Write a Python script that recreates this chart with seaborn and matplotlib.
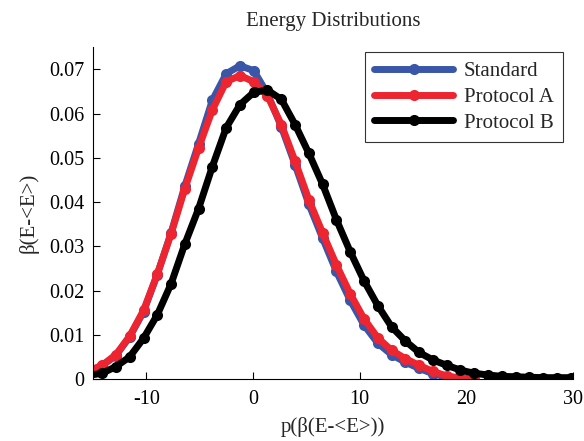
import numpy as np
import pandas as pd
import matplotlib
matplotlib.use("Agg")
import matplotlib.pyplot as plt
import seaborn as sns

# Bin centres of the energy histograms
x_std = [-15.42, -14.13, -12.84, -11.55, -10.25, -8.96, -7.67, -6.38, -5.09, -3.80,
         -2.50, -1.21, 0.08, 1.37, 2.67, 3.96, 5.25, 6.54, 7.83, 9.12,
         10.42, 11.71, 13.00, 14.29, 15.58, 16.88, 18.17, 19.46, 20.75]
x_b = x_std + [22.04, 23.34, 24.63, 25.92, 27.21, 28.50, 29.80]

standard = [0.0017, 0.0030, 0.0053, 0.0095, 0.0152, 0.0236, 0.0330, 0.0436, 0.0532, 0.0630,
            0.0690, 0.0708, 0.0697, 0.0645, 0.0570, 0.0484, 0.0395, 0.0318, 0.0243, 0.0178,
            0.0122, 0.0081, 0.0055, 0.0038, 0.0024, 0.0012, 0.0004, 0.0001, 0.0000]
protocol_a = [0.0018, 0.0031, 0.0055, 0.0097, 0.0155, 0.0237, 0.0328, 0.0430, 0.0522, 0.0608,
              0.0672, 0.0686, 0.0672, 0.0640, 0.0575, 0.0492, 0.0405, 0.0330, 0.0258, 0.0193,
              0.0136, 0.0093, 0.0065, 0.0046, 0.0031, 0.0017, 0.0007, 0.0002, 0.0000]
protocol_b = [0.0008, 0.0013, 0.0028, 0.0050, 0.0092, 0.0145, 0.0215, 0.0305, 0.0385, 0.0480,
              0.0568, 0.0620, 0.0648, 0.0653, 0.0632, 0.0575, 0.0510, 0.0440, 0.0360, 0.0288,
              0.0222, 0.0166, 0.0118, 0.0086, 0.0060, 0.0043, 0.0031, 0.0020, 0.0013,
              0.0009, 0.0006, 0.0005, 0.0004, 0.0003, 0.0003, 0.0003]

series_names = ["Standard", "Protocol A", "Protocol B"]
series_colors = ["#3a56a8", "#ec2530", "#000000"]

x_ticks = [-10, 0, 10, 20, 30]
y_ticks = [0, 0.01, 0.02, 0.03, 0.04, 0.05, 0.06, 0.07]

sns.set_theme(style="white")
plt.rcParams["font.family"] = ["Liberation Serif", "DejaVu Serif"]
plt.rcParams["axes.unicode_minus"] = False

frames = [
    pd.DataFrame({"x": x_std, "y": standard, "name": series_names[0]}),
    pd.DataFrame({"x": x_std, "y": protocol_a, "name": series_names[1]}),
    pd.DataFrame({"x": x_b, "y": protocol_b, "name": series_names[2]}),
]
df = pd.concat(frames, ignore_index=True)

fig = plt.figure(figsize=(5.84, 4.41), dpi=100)
ax = fig.add_axes([0.159, 0.1406, 0.822, 0.7524])

sns.lineplot(data=df, x="x", y="y", hue="name", hue_order=series_names,
             palette=series_colors, marker="o", markersize=8,
             markeredgewidth=0, linewidth=5, sort=False, estimator=None,
             ax=ax)

ax.set_xlim(-15, 30)
ax.set_ylim(0, 0.075)
ax.set_xticks(x_ticks)
ax.set_yticks(y_ticks)
ax.set_xticklabels([str(t) for t in x_ticks])
ax.set_yticklabels(["0"] + [f"{t:.2f}" for t in y_ticks[1:]])

for side in ["top", "right"]:
    ax.spines[side].set_visible(False)
for side in ["left", "bottom"]:
    ax.spines[side].set_color("black")
    ax.spines[side].set_linewidth(0.8)

ax.tick_params(axis="both", direction="in", length=5, width=0.8, colors="black",
               labelsize=14.5, left=True, bottom=True, top=False, right=False)
ax.tick_params(axis="x", pad=8)
ax.tick_params(axis="y", pad=6)

ax.set_title("Energy Distributions", fontsize=15, pad=15)
ax.set_xlabel("p(β(E-<E>))", fontsize=15, labelpad=6)
ax.set_ylabel("β(E-<E>)", fontsize=15, labelpad=8)

leg = ax.legend(loc="upper right", bbox_to_anchor=(0.979, 0.985), fontsize=15,
                handlelength=3.8, handletextpad=0.5, borderpad=0.45,
                labelspacing=0.3, borderaxespad=0.0, frameon=True, fancybox=False)
leg.get_frame().set_edgecolor("black")
leg.get_frame().set_linewidth(0.8)
leg.set_title(None)

fig.savefig("out.png", dpi=100, facecolor="white")
